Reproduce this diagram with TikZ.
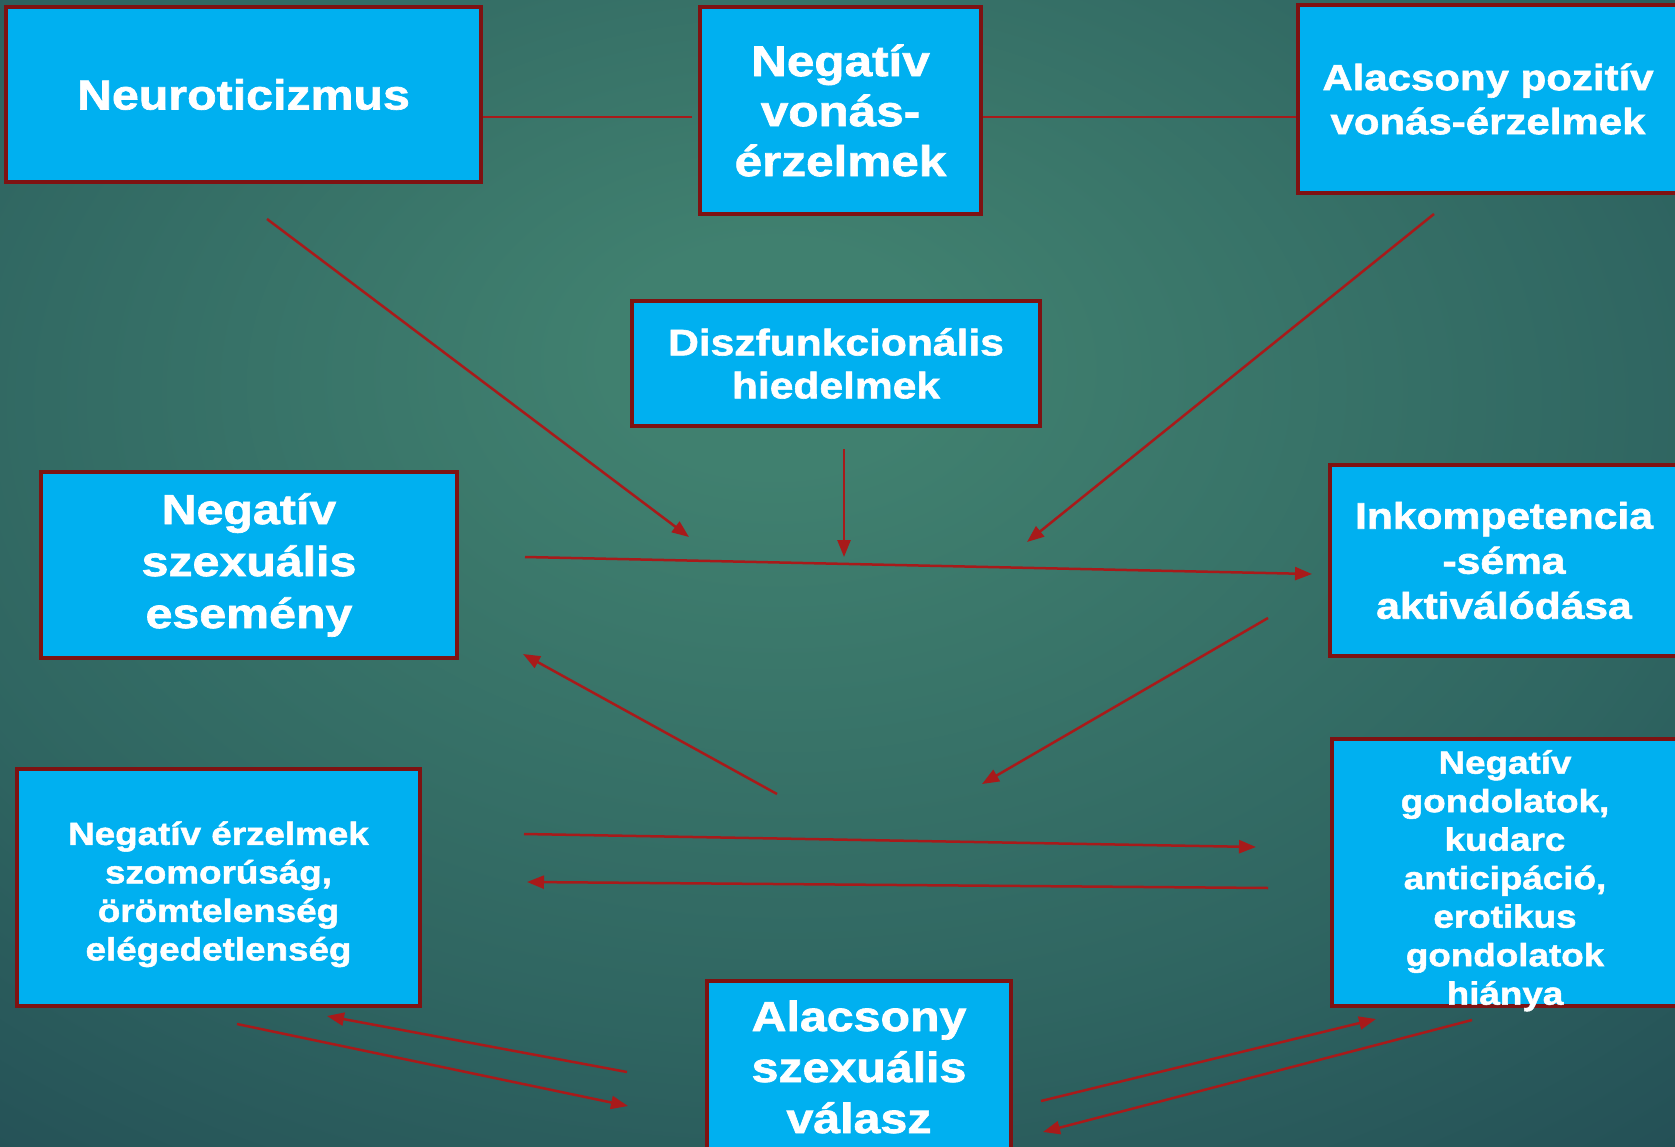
\documentclass[tikz,border=0pt]{standalone}
\usepackage{fontspec}
\setmainfont{Liberation Sans}[FakeStretch=1.15, BoldFeatures={FakeBold=1.6}]
\usetikzlibrary{arrows.meta}
\definecolor{boxblue}{HTML}{00B0F0}
\definecolor{boxred}{HTML}{7E1212}
\definecolor{arrred}{HTML}{A81A1A}
\definecolor{bgA}{HTML}{40806F}
\definecolor{bgB}{HTML}{2F6561}
\definecolor{bgC}{HTML}{214A53}
\definecolor{bgD}{HTML}{163644}
\pgfdeclareradialshading{bgshade}{\pgfpoint{-2bp}{10bp}}{color(0bp)=(bgA); color(5bp)=(bgA); color(27bp)=(bgB); color(44bp)=(bgC); color(62bp)=(bgD); color(90bp)=(bgD)}
\newcommand\bxfs[2]{\fontsize{#1}{#2}\selectfont\bfseries}
\tikzset{
  box/.style={draw=boxred, line width=4pt, fill=boxblue, text=white, inner sep=0pt, align=center},
  conn/.style={draw=arrred, line width=2.5pt},
  arr/.style={conn, -{Triangle[length=17pt,width=13pt]}}
}
\begin{document}
\begin{tikzpicture}[x=1pt,y=1pt]
\useasboundingbox (0,0) rectangle (1675,-1147);
\clip (0,0) rectangle (1675,-1147);
\shade[shading=bgshade] (0,0) rectangle (1675,-1147);

% coordinates of free connector ends
\coordinate (a1) at (267,-219);  \coordinate (a2) at (689,-537);
\coordinate (b1) at (844,-449);  \coordinate (b2) at (844,-557);
\coordinate (c1) at (1434,-214); \coordinate (c2) at (1027,-542);
\coordinate (d1) at (525,-557);  \coordinate (d2) at (1312,-574);
\coordinate (e1) at (1268,-618); \coordinate (e2) at (982,-784);
\coordinate (f1) at (777,-794);  \coordinate (f2) at (523,-654);
\coordinate (g1) at (524,-834);  \coordinate (g2) at (1256,-847);
\coordinate (h1) at (1268,-888); \coordinate (h2) at (527,-882);
\coordinate (i1) at (237,-1024); \coordinate (i2) at (628,-1106);
\coordinate (j1) at (627,-1072); \coordinate (j2) at (327,-1016);
\coordinate (k1) at (1041,-1101);\coordinate (k2) at (1376,-1019);
\coordinate (l1) at (1472,-1020);\coordinate (l2) at (1043,-1132);
\coordinate (t1) at (481,-117);  \coordinate (t2) at (692,-117);
\coordinate (t3) at (981,-117);  \coordinate (t4) at (1298,-117);

% connectors
\draw[conn] (t1) -- (t2);
\draw[conn] (t3) -- (t4);
\draw[arr] (a1) -- (a2);
\draw[arr] (b1) -- (b2);
\draw[arr] (c1) -- (c2);
\draw[arr] (d1) -- (d2);
\draw[arr] (e1) -- (e2);
\draw[arr] (f1) -- (f2);
\draw[arr] (g1) -- (g2);
\draw[arr] (h1) -- (h2);
\draw[arr] (i1) -- (i2);
\draw[arr] (j1) -- (j2);
\draw[arr] (k1) -- (k2);
\draw[arr] (l1) -- (l2);

% boxes
\node[box, minimum width=475pt, minimum height=175pt, font=\bxfs{42}{50}] (neuro) at (243.5,-94.5) {Neuroticizmus};
\node[box, minimum width=281pt, minimum height=207pt, font=\bxfs{43}{50}] (negvon) at (840.5,-110.5) {Negatív\\vonás-\\érzelmek};
\node[box, minimum width=380pt, minimum height=188pt, font=\bxfs{36.5}{44}] (alpoz) at (1488,-99) {Alacsony pozitív\\vonás-érzelmek};
\node[box, minimum width=408pt, minimum height=125pt, font=\bxfs{37}{43}] (diszf) at (836,-363.5) {Diszfunkcionális\\hiedelmek};
\node[box, minimum width=416pt, minimum height=186pt, font=\bxfs{42}{52}] (negszex) at (249,-565) {Negatív\\szexuális\\esemény};
\node[box, minimum width=348pt, minimum height=191pt, font=\bxfs{37}{45}] (inkomp) at (1504,-560.5) {Inkompetencia\\-séma\\aktiválódása};
\node[box, minimum width=403pt, minimum height=237pt, font=\bxfs{32}{38.5}] (negerz) at (218.5,-887.5) {\rule{0pt}{37pt}Negatív érzelmek\\szomorúság,\\örömtelenség\\elégedetlenség};
\node[box, inner ysep=-30pt, minimum width=346pt, minimum height=267pt, font=\bxfs{32}{38.5}] (neggond) at (1505,-872.5) {\rule{0pt}{40pt}Negatív\\gondolatok,\\kudarc\\anticipáció,\\erotikus\\gondolatok\\hiánya};
\node[box, minimum width=304pt, minimum height=172pt, font=\bxfs{42}{51}] (alszex) at (859,-1067) {Alacsony\\szexuális\\válasz};
\end{tikzpicture}
\end{document}
